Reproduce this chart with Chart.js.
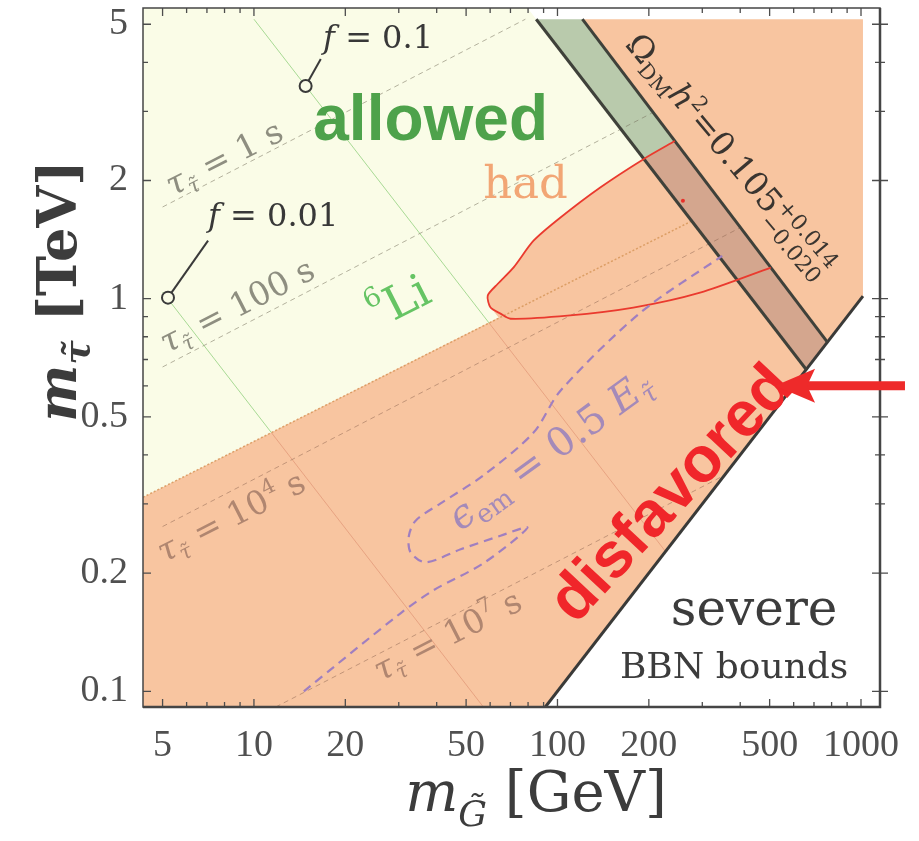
<!DOCTYPE html>
<html>
<head>
<meta charset="utf-8">
<style>
  html, body { margin: 0; padding: 0; background: #fff; }
  #wrap { width: 919px; height: 841px; position: relative; }
</style>
<script src="https://cdn.jsdelivr.net/npm/chart.js@4.4.1/dist/chart.umd.min.js"></script>
</head>
<body>
<div id="wrap"><canvas id="myChart"></canvas></div>
<script>
// axis ranges (GeV, TeV) and tick values
const xRange = [4.31, 1155];
const yRange = [0.0912, 5.5];
const xTickLabels = [5, 10, 20, 50, 100, 200, 500, 1000];
const yTickLabels = [0.1, 0.2, 0.5, 1, 2, 5];
const xMinorTicks = [6, 7, 8, 9, 30, 40, 60, 70, 80, 90, 300, 400, 600, 700, 800, 900];
const yMinorTicks = [0.3, 0.4, 0.6, 0.7, 0.8, 0.9, 3, 4];

// allowed region (above the 6Li bound, left of the relic band)
const allowedX = [4.31, 64.0, 60.2, 58.9, 63.5, 71.6, 83.4, 102.3, 138.3, 192.6, 79.7, 4.31];
const allowedY = [0.312, 0.895, 0.949, 1.018, 1.09, 1.20, 1.405, 1.61, 1.92, 2.27, 5.5, 5.5];

// disfavored region
const disfavX = [4.31, 4.31, 64.0, 60.2, 58.9, 63.5, 71.6, 83.4, 102.3, 138.3, 192.6, 243.5, 120.8, 1015, 1015, 91.2];
const disfavY = [0.0912, 0.312, 0.895, 0.949, 1.018, 1.09, 1.20, 1.405, 1.61, 1.92, 2.27, 2.52, 5.15, 5.15, 1.015, 0.0912];

// Omega_DM h^2 band
const bandTopX = [85.1, 120.8, 243.5, 192.6];
const bandTopY = [5.15, 5.15, 2.52, 2.27];
const bandLowX = [192.6, 243.5, 775, 660];
const bandLowY = [2.27, 2.52, 0.775, 0.66];
const bandLeftX = [85.1, 660];
const bandLeftY = [5.15, 0.66];
const bandRightX = [120.8, 775];
const bandRightY = [5.15, 0.775];

// severe BBN bound  m_stau = m_gravitino
const bbnX = [1015, 91.2];
const bbnY = [1.015, 0.0912];

// hadronic bound contour
const hadX = [243.5, 192.6, 138.3, 102.3, 83.4, 71.6, 63.5, 58.9, 60.2, 64.9, 70.0, 107.9, 177.8, 295, 504.5];
const hadY = [2.52, 2.27, 1.92, 1.61, 1.405, 1.20, 1.09, 1.018, 0.949, 0.916, 0.889, 0.905, 0.949, 1.036, 1.20];
const hadDotX = [259];
const hadDotY = [1.776];

// 6Li bound
const li6X = [4.31, 276];
const li6Y = [0.312, 1.575];

// stau lifetime contours
const tau1X = [5, 78.4];
const tau1Y = [1.712, 5.15];
const tau100X = [5, 204.6];
const tau100Y = [0.670, 2.97];
const tau1e4X = [5, 399];
const tau1e4Y = [0.2628, 1.515];
const tau1e7X = [11.8, 355];
const tau1e7Y = [0.0912, 0.355];

// f contours (allowed part / disfavored part)
const fTenthX = [10.0, 59.6];
const fTenthY = [5.15, 0.866];
const fTenthLowX = [59.6, 227];
const fTenthLowY = [0.866, 0.227];
const fHundX = [5, 11.41];
const fHundY = [1.04, 0.456];
const fHundLowX = [11.41, 57.0];
const fHundLowY = [0.456, 0.0912];
const fMarkX = [14.8, 5.21];
const fMarkY = [3.48, 1.006];
const fLeadTenthX = [14.8, 16.6];
const fLeadTenthY = [3.48, 4.08];
const fLeadHundX = [5.21, 7.06];
const fLeadHundY = [1.006, 1.405];

// eps_em = 0.5 E_tau contour
const emX = [14.6, 30.4, 39.1, 57.1, 79.6, 64.9, 48.0, 36.8, 32.8, 32.4, 34.1, 41.2, 57.1, 83.4, 102.3, 187.5, 349];
const emY = [0.100, 0.158, 0.181, 0.212, 0.261, 0.249, 0.230, 0.213, 0.226, 0.249, 0.272, 0.301, 0.355, 0.456, 0.583, 0.921, 1.286];

// arrow pointing at the band / BBN corner
const arrowX = [1396, 521];
const arrowY = [0.6, 0.6];

const pts = (xs, ys) => xs.map((x, i) => ({ x: x, y: ys[i] }));

function area(xs, ys, color, order) {
  return { data: pts(xs, ys), borderColor: 'rgba(0,0,0,0)', borderWidth: 0, backgroundColor: color,
           fill: 'shape', order: order, pointRadius: 0 };
}
function curve(xs, ys, color, width, dash, order, extra) {
  return Object.assign({ data: pts(xs, ys), borderColor: color, borderWidth: width, borderDash: dash || [],
           fill: false, order: order, pointRadius: 0 }, extra || {});
}

const CREAM = '#fafce7';
const ORANGE = '#f8c5a0';

const serif = "'DejaVu Serif', serif";
function fontOf(p) {
  return (p.style || '') + ' ' + (p.weight || '') + ' ' + p.size + 'px ' + (p.family || serif);
}
// draw a run of text pieces (subscripts etc.) rotated around an anchor
function richText(ctx, parts, px, py, angle, align, color, shift) {
  ctx.save();
  ctx.translate(px, py);
  ctx.rotate(angle * Math.PI / 180);
  ctx.translate(0, shift || 0);
  ctx.fillStyle = color;
  ctx.textAlign = 'left';
  ctx.textBaseline = 'alphabetic';
  const widths = parts.map(p => {
    ctx.font = fontOf(p);
    if (p.stack) return Math.max.apply(null, p.stack.map(s => ctx.measureText(s.t).width));
    return ctx.measureText(p.t).width;
  });
  const total = widths.reduce((s, w) => s + w, 0);
  let cx = align === 'center' ? -total / 2 : 0;
  parts.forEach((p, i) => {
    ctx.font = fontOf(p);
    if (p.stack) p.stack.forEach(s => ctx.fillText(s.t, cx, s.dy));
    else ctx.fillText(p.t, cx, p.dy || 0);
    cx += widths[i];
  });
  ctx.restore();
}

const tauParts = (val, exp) => {
  const parts = [{ t: 'τ', size: 33, style: 'italic' }, { t: 'τ\u0303', size: 21, style: 'italic', dy: 7 }, { t: ' = ' + val, size: 33 }];
  if (exp) parts.push({ t: exp, size: 21, dy: -14 });
  parts.push({ t: ' s', size: 33 });
  return parts;
};

const decorations = {
  id: 'decorations',
  afterDraw(chart) {
    const { ctx, chartArea: a, scales } = chart;
    const X = v => scales.x.getPixelForValue(v);
    const Y = v => scales.y.getPixelForValue(v);
    ctx.save();

    // labels inside the plot
    ctx.save();
    ctx.beginPath();
    ctx.rect(a.left, a.top, a.right - a.left, a.bottom - a.top);
    ctx.clip();
    richText(ctx, [{ t: 'allowed', size: 64, weight: 'bold', family: "'Liberation Sans', sans-serif" }], X(38.2), Y(2.89), 0, 'center', '#4ea24b', 22);
    richText(ctx, [{ t: 'had', size: 45 }], X(78.5), Y(1.97), 0, 'center', '#f2a675', 15);
    richText(ctx, [{ t: '6', size: 27, dy: -22 }, { t: 'Li', size: 46 }], X(30.0), Y(0.988), -27, 'center', '#66c464', 16);
    richText(ctx, [{ t: 'disfavored', size: 64, weight: 'bold', family: "'Liberation Sans', sans-serif" }], X(234), Y(0.322), -47, 'center', '#f0262a', 22);
    richText(ctx, [{ t: 'severe', size: 50 }], X(444.6), Y(0.1472), 0, 'center', '#3c3c3c', 0);
    richText(ctx, [{ t: 'BBN bounds', size: 36 }], X(381.9), Y(0.108), 0, 'center', '#3c3c3c', 0);
    richText(ctx, tauParts('1'), X(7.97), Y(2.285), -27, 'center', '#8e8e80', 11);
    richText(ctx, tauParts('100'), X(8.79), Y(0.96), -27, 'center', '#8e8e80', 11);
    richText(ctx, tauParts('10', '4'), X(8.40), Y(0.2788), -27, 'center', '#b08670', 11);
    richText(ctx, tauParts('10', '7'), X(43.4), Y(0.1389), -27, 'center', '#b08670', 11);
    richText(ctx, [{ t: 'ϵ', size: 40, style: 'italic' }, { t: 'em', size: 26, dy: 8 }, { t: ' = 0.5 ', size: 40 },
                   { t: 'E', size: 40, style: 'italic' }, { t: 'τ\u0303', size: 26, style: 'italic', dy: 8 }],
             X(94.3), Y(0.413), -36, 'center', '#a48ab9', 14);
    richText(ctx, [{ t: 'f', size: 32, style: 'italic' }, { t: ' = 0.1', size: 32 }], X(16.9), Y(4.35), 0, 'left', '#383838', 0);
    richText(ctx, [{ t: 'f', size: 32, style: 'italic' }, { t: ' = 0.01', size: 32 }], X(7.06), Y(1.534), 0, 'left', '#383838', 0);
    richText(ctx, [{ t: 'Ω', size: 33 }, { t: 'DM', size: 21, dy: 7 }, { t: 'h', size: 33, style: 'italic' }, { t: '2', size: 21, dy: -13 },
                   { t: '=0.105', size: 33 }, { stack: [{ t: '+0.014', dy: -12 }, { t: '−0.020', dy: 11 }], size: 22 }],
             X(166.1), Y(4.43), 50, 'left', '#3a3530', 0);
    ctx.restore();

    // ticks (inward) on all four sides
    ctx.strokeStyle = '#4d4d4d';
    ctx.lineWidth = 1.3;
    ctx.beginPath();
    const xTick = (v, len) => { const p = X(v); ctx.moveTo(p, a.bottom); ctx.lineTo(p, a.bottom - len); ctx.moveTo(p, a.top); ctx.lineTo(p, a.top + len); };
    const yTick = (v, len) => { const p = Y(v); ctx.moveTo(a.left, p); ctx.lineTo(a.left + len, p); ctx.moveTo(a.right - len, p); ctx.lineTo(a.right + len, p); };
    xTickLabels.forEach(v => xTick(v, 8));
    xMinorTicks.forEach(v => xTick(v, 5));
    yTickLabels.forEach(v => yTick(v, 8));
    yMinorTicks.forEach(v => yTick(v, 5));
    ctx.stroke();

    // frame
    ctx.strokeStyle = '#454545';
    ctx.lineWidth = 1.5;
    ctx.strokeRect(a.left, a.top, a.right - a.left, a.bottom - a.top);
    ctx.lineWidth = 2.5;
    ctx.beginPath();
    ctx.moveTo(a.left, a.bottom); ctx.lineTo(a.right, a.bottom); ctx.lineTo(a.right, a.top);
    ctx.stroke();

    // axis titles
    richText(ctx, [{ t: 'm', size: 56, style: 'italic' }, { t: 'G\u0303', size: 36, style: 'italic', dy: 15 }, { t: ' [GeV]', size: 56 }],
             a.left + 393, a.bottom + 104, 0, 'center', '#3c3c3c', 0);
    richText(ctx, [{ t: 'm', size: 54, style: 'italic', weight: 'bold' }, { t: 'τ\u0303', size: 36, style: 'italic', weight: 'bold', dy: 13 }, { t: ' [TeV]', size: 54, weight: 'bold' }],
             76, a.top + 283, -90, 'center', '#3c3c3c', 0);

    // red arrow
    const tx = X(arrowX[1]), ty = Y(arrowY[1]), sx = X(arrowX[0]), sy = Y(arrowY[0]);
    ctx.strokeStyle = '#ee2a2a';
    ctx.fillStyle = '#ee2a2a';
    ctx.lineWidth = 9;
    ctx.beginPath();
    ctx.moveTo(sx, sy); ctx.lineTo(tx + 30, ty);
    ctx.stroke();
    ctx.beginPath();
    ctx.moveTo(tx, ty); ctx.lineTo(tx + 40, ty - 17); ctx.lineTo(tx + 32, ty); ctx.lineTo(tx + 40, ty + 17);
    ctx.closePath();
    ctx.fill();
    ctx.restore();
  }
};

const ctx = document.getElementById('myChart').getContext('2d');
new Chart(ctx, {
  type: 'line',
  data: {
    datasets: [
      area(allowedX, allowedY, CREAM, 100),
      area(disfavX, disfavY, ORANGE, 99),
      area(bandTopX, bandTopY, '#b9caac', 98),
      area(bandLowX, bandLowY, '#d4a68e', 98),
      curve(fTenthX, fTenthY, 'rgba(140,205,120,0.75)', 1, [], 96),
      curve(fHundX, fHundY, 'rgba(140,205,120,0.75)', 1, [], 96),
      curve(fTenthLowX, fTenthLowY, 'rgba(215,130,100,0.5)', 1, [], 96),
      curve(fHundLowX, fHundLowY, 'rgba(215,130,100,0.5)', 1, [], 96),
      curve(tau1X, tau1Y, 'rgba(120,115,95,0.55)', 1, [5, 4], 95),
      curve(tau100X, tau100Y, 'rgba(120,115,95,0.55)', 1, [5, 4], 95),
      curve(tau1e4X, tau1e4Y, 'rgba(140,100,80,0.5)', 1, [5, 4], 95),
      curve(tau1e7X, tau1e7Y, 'rgba(140,100,80,0.5)', 1, [5, 4], 95),
      curve(li6X, li6Y, 'rgba(215,150,90,0.85)', 1.5, [2, 2], 94),
      curve(bandLeftX, bandLeftY, '#3f413a', 3, [], 90),
      curve(bandRightX, bandRightY, '#3f413a', 3, [], 90),
      curve(bbnX, bbnY, '#3a3a38', 3, [], 90),
      curve(hadX, hadY, '#ea3a2e', 1.8, [], 89, { tension: 0.25 }),
      curve(emX, emY, '#a07fc0', 2.2, [9, 6], 88, { tension: 0.3 }),
      curve(fLeadTenthX, fLeadTenthY, '#3a3a3a', 2, [], 87),
      curve(fLeadHundX, fLeadHundY, '#3a3a3a', 2, [], 87),
      { data: pts(fMarkX, fMarkY), showLine: false, pointRadius: 6, pointBorderWidth: 2,
        pointBorderColor: '#3a3a3a', pointBackgroundColor: CREAM, order: 86 },
      { data: pts(hadDotX, hadDotY), showLine: false, pointRadius: 2, pointBorderWidth: 0,
        pointBackgroundColor: '#e8302a', order: 85 }
    ]
  },
  options: {
    responsive: true,
    maintainAspectRatio: false,
    animation: false,
    events: [],
    layout: { padding: { top: 7, right: 39, bottom: 0, left: 0 } },
    plugins: { legend: { display: false }, tooltip: { enabled: false } },
    scales: {
      x: {
        type: 'logarithmic',
        min: xRange[0],
        max: xRange[1],
        grid: { display: false, drawTicks: false },
        border: { display: false },
        afterBuildTicks: s => { s.ticks = xTickLabels.map(v => ({ value: v })); },
        afterFit: s => { s.height = 134; s.paddingLeft = 0; s.paddingRight = 0; },
        ticks: {
          autoSkip: false, maxRotation: 0, minRotation: 0, padding: 16,
          color: '#505050',
          font: { family: "'Liberation Serif', serif", size: 38 },
          callback: v => String(v)
        }
      },
      y: {
        type: 'logarithmic',
        min: yRange[0],
        max: yRange[1],
        grid: { display: false, drawTicks: false },
        border: { display: false },
        afterBuildTicks: s => { s.ticks = yTickLabels.map(v => ({ value: v })); },
        afterFit: s => { s.width = 143; s.paddingTop = 0; s.paddingBottom = 0; },
        ticks: {
          autoSkip: false, padding: 15,
          color: '#505050',
          font: { family: "'Liberation Serif', serif", size: 38 },
          callback: v => String(v)
        }
      }
    }
  },
  plugins: [decorations]
});
</script>
</body>
</html>
